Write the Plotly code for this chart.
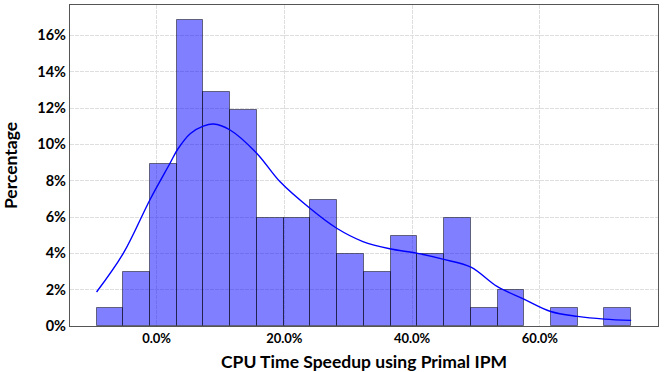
import plotly.graph_objects as go

# histogram: 20 equal bins, 101 instances
bin_left = -9.4
bin_width = 4.185
counts = [1, 3, 9, 17, 13, 12, 6, 6, 7, 4, 3, 5, 4, 6, 1, 2, 0, 1, 0, 1]
n_total = 101

# kde curve (x in %, y in %)
kde_x = [-9.4, -5.2, -1.0, 2.1, 3.3, 5.3, 7.3, 8.9, 11.5, 15.7, 19.3, 24.0,
         28.2, 32.3, 36.5, 40.7, 44.8, 49.2, 53.3, 57.5, 61.7, 65.9, 70.1, 74.3]
kde_y = [1.87, 4.01, 6.98, 8.96, 9.73, 10.6, 11.0, 11.12, 10.79, 9.5, 7.95, 6.48,
         5.38, 4.65, 4.25, 4.01, 3.68, 3.24, 2.18, 1.48, 0.80, 0.53, 0.38, 0.31]

x_tickvals = [0, 20, 40, 60]
x_ticktext = ["0.0%", "20.0%", "40.0%", "60.0%"]

centers = [bin_left + bin_width * (i + 0.5) for i in range(len(counts))]
# empty bins are left out so no outline is drawn on the baseline
pct = [c / n_total * 100 if c else None for c in counts]

font_family = "Lato"

fig = go.Figure()
fig.add_trace(go.Bar(
    x=centers, y=pct, width=bin_width,
    marker=dict(color="rgba(0,0,255,0.5)", line=dict(color="rgba(0,0,0,0.5)", width=1)),
    showlegend=False,
))
fig.add_trace(go.Scatter(
    x=kde_x, y=kde_y, mode="lines", line=dict(color="blue", width=1.4, shape="spline"),
    showlegend=False,
))

fig.update_layout(
    width=664, height=372,
    margin=dict(l=70, r=6, t=5, b=46),
    plot_bgcolor="white", paper_bgcolor="white",
    font=dict(family=font_family, color="black"),
    bargap=0,
)
fig.update_xaxes(
    range=[-13.56, 78.5], tickvals=x_tickvals, ticktext=x_ticktext,
    tickfont=dict(size=13, family=font_family, weight="bold"),
    title=dict(text="CPU Time Speedup using Primal IPM",
               font=dict(size=17.5, family=font_family, weight="bold")),
    showgrid=True, gridcolor="#dedede", griddash="4px,1px", gridwidth=1,
    showline=True, linecolor="#555555", linewidth=1.2, mirror=True,
    zeroline=False, ticks="", automargin=False,
)
fig.update_yaxes(
    range=[0, 17.67], dtick=2, ticksuffix="%",
    tickfont=dict(size=14.5, family=font_family, weight="bold"),
    title=dict(text="Percentage",
               font=dict(size=17.5, family=font_family, weight="bold")),
    showgrid=True, gridcolor="#dedede", griddash="4px,1px", gridwidth=1,
    showline=True, linecolor="#555555", linewidth=1.2, mirror=True,
    zeroline=False, ticks="", automargin=False,
)

# drop the browser's default body margin so the figure sits at the page corner
fig.write_html("out.html", config={"displayModeBar": False},
               post_script="document.body.style.margin = '0';")
